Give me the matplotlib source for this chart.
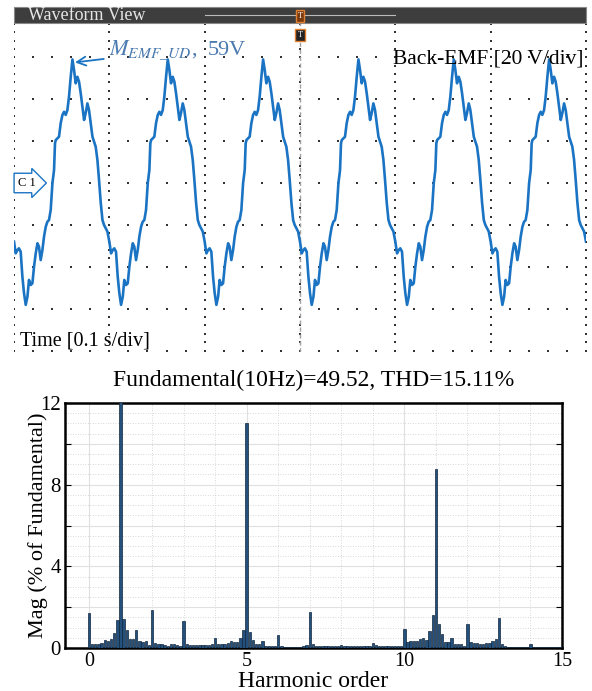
import numpy as np
import matplotlib
matplotlib.use("Agg")
import matplotlib.pyplot as plt
from matplotlib.patches import Rectangle

plt.rcParams['font.family'] = ['Liberation Serif', 'DejaVu Serif']
plt.rcParams['mathtext.fontset'] = 'stix'

# ---- data: one period of the back-EMF waveform (10 Hz)
period_ms = [0, 1.8, 3.6, 5.2, 7.0, 8.8, 10.5, 12.3, 14.1, 15.7, 17.5, 19.3, 21.0, 22.8,
             24.6, 26.2, 28.0, 29.8, 31.5, 33.3, 35.0, 36.7, 38.5, 40.3, 42.0, 43.0,
             43.8, 47.2, 49.0, 50.8, 52.5, 54.2, 56.0, 57.7, 59.5, 61.3, 63.0, 64.7,
             66.5, 68.2, 70.0, 73.5, 75.2, 77.0, 78.7, 80.5, 82.3, 84.0, 85.7, 87.5,
             89.2, 91.0, 92.8, 94.4, 96.2, 98.0]
period_volt = [-28.0, -33.6, -32.0, -31.2, -32.8, -44.7, -52.6, -58.2, -54.3, -46.3,
               -48.7, -47.9, -40.0, -33.6, -28.8, -30.4, -36.8, -32.0, -25.6, -20.9,
               -18.5, -17.7, -12.9, -0.1, 6.2, 18.9, 20.5, 22.1, 28.6, 32.5, 34.0,
               32.5, 34.8, 41.2, 50.7, 59.0, 53.9, 47.6, 50.7, 48.4, 42.8, 30.1, 33.4,
               38.0, 34.8, 28.6, 22.1, 19.7, 17.3, 11.0, 1.4, -9.5, -17.7, -20.0,
               -21.6, -23.2]
n_periods = 6

# ---- data: harmonic spectrum (% of fundamental), 0.1 harmonic-order resolution
harm_order = np.round(np.arange(0, 15.01, 0.1), 1)
harm_mag = [
    1.69, 0.18, 0.18, 0.20, 0.25, 0.38, 0.36, 0.43, 0.74, 1.39,
    100.0, 1.43, 0.87, 0.44, 0.44, 0.90, 0.34, 0.31, 0.33, 0.13,
    1.85, 0.25, 0.21, 0.18, 0.15, 0.11, 0.18, 0.20, 0.16, 0.11,
    1.31, 0.18, 0.16, 0.15, 0.13, 0.13, 0.16, 0.15, 0.16, 0.18,
    0.50, 0.21, 0.21, 0.21, 0.25, 0.36, 0.30, 0.30, 0.50, 0.90,
    11.0, 0.79, 0.41, 0.18, 0.18, 0.33, 0.11, 0.11, 0.08, 0.08,
    0.66, 0.08, 0.07, 0.06, 0.05, 0.05, 0.05, 0.05, 0.08, 0.16,
    1.74, 0.21, 0.11, 0.10, 0.08, 0.08, 0.10, 0.08, 0.08, 0.08,
    0.16, 0.10, 0.10, 0.08, 0.08, 0.08, 0.08, 0.08, 0.08, 0.10,
    0.25, 0.13, 0.10, 0.11, 0.11, 0.10, 0.10, 0.08, 0.08, 0.10,
    0.93, 0.28, 0.33, 0.33, 0.33, 0.44, 0.48, 0.39, 0.84, 1.64,
    8.77, 1.16, 0.67, 0.31, 0.31, 0.51, 0.20, 0.20, 0.20, 0.08,
    1.16, 0.30, 0.26, 0.23, 0.18, 0.21, 0.23, 0.26, 0.33, 0.44,
    1.48, 0.18, 0.08, 0.05, 0.06, 0.05, 0.04, 0.04, 0.04, 0.05,
    0.20, 0.05, 0.04, 0.04, 0.04, 0.05, 0.04, 0.04, 0.05, 0.04,
    0.04]
x_ticks = [0, 5, 10, 15]
y_ticks = [0, 2, 4, 6, 8, 10, 12]
y_ticklabels = ['0', '', '4', '', '8', '', '12']

W, H = 592, 691
fig = plt.figure(figsize=(W / 100, H / 100), dpi=100)

# ---------------- top: scope view ----------------
trace_blue = '#1b74c3'
ax1 = fig.add_axes([14 / W, 1 - 352 / H, 572 / W, 329 / H])
t_all = np.concatenate([(k * 100 + np.array(period_ms)) / 1000 for k in range(n_periods)] + [[0.6]])
v_all = np.concatenate([np.array(period_volt) for k in range(n_periods)] + [[period_volt[0]]])
ax1.set_xlim(0, 0.6)
ax1.set_ylim(-80.7, 76.4)
for s in ax1.spines.values():
    s.set_visible(False)
ax1.set_xticks([])
ax1.set_yticks([])

# dotted scope graticule
gx, gy = [], []
for tv in np.arange(0, 0.601, 0.1):
    for vv in np.arange(-80, 77, 4):
        gx.append(tv); gy.append(vv)
for vv in np.arange(-80, 61, 20):
    for tv in np.arange(0, 0.601, 0.02):
        gx.append(tv); gy.append(vv)
ax1.scatter(gx, gy, s=1.6, marker='s', color='#333333', linewidths=0, zorder=1)

ax1.axvline(0.3, color='#a0a0a0', lw=1, ls=(0, (3, 2)), zorder=1)
ax1.plot(t_all, v_all, color=trace_blue, lw=1.9, zorder=3)

ax1.text(0.398, 59, 'Back-EMF [20 V/div]', fontsize=15.5, color='black', va='center', zorder=4)
ax1.text(0.006, -75.5, 'Time [0.1 s/div]', fontsize=14.5, color='black', va='center', zorder=4)
ax1.text(0.004, 0, 'C 1', fontsize=9, color='black', va='center', zorder=4,
         bbox=dict(boxstyle='rarrow,pad=0.3', fc='white', ec=trace_blue, lw=1))
ax1.annotate(r'$M_{EMF\_UD}$,  59V', xy=(0.0625, 57.5), xytext=(0.1, 63.5),
             fontsize=16, color='#4a7ab0', va='center', zorder=4,
             arrowprops=dict(arrowstyle='->', color=trace_blue, lw=1.3,
                             shrinkA=2, shrinkB=1))

# header bar
fig.patches.append(Rectangle((14 / W, 1 - 23 / H), 572 / W, 16 / H,
                             transform=fig.transFigure, fc='#3d3d3d', ec='#888888', lw=0.8))
fig.text(28 / W, 1 - 15.5 / H, 'Waveform View', fontsize=13, color='#e6e6e6', va='center')
fig.lines.append(plt.Line2D([205 / W, 395 / W], [1 - 15 / H, 1 - 15 / H],
                            transform=fig.transFigure, color='#bbbbbb', lw=0.8))
fig.text(300 / W, 1 - 16 / H, 'T', fontsize=6, color='white', ha='center', va='center',
         bbox=dict(boxstyle='square,pad=0.2', fc='#7a3a10', ec='#e08030', lw=1))
fig.text(300 / W, 1 - 35 / H, 'T', fontsize=6, color='white', ha='center', va='center',
         bbox=dict(boxstyle='square,pad=0.25', fc='#222222', ec='#e08030', lw=1))

# ---------------- bottom: harmonic spectrum ----------------
ax2 = fig.add_axes([65 / W, 1 - 648 / H, 497 / W, 245 / H])
ax2.bar(harm_order, harm_mag, width=0.075, color='#24507e', edgecolor='#10263d',
        linewidth=0.5, zorder=3)
ax2.set_xlim(-0.76, 15)
ax2.set_ylim(0, 12)
ax2.set_xticks(x_ticks)
ax2.set_xticks(np.arange(0, 15.1, 1), minor=True)
ax2.set_yticks(y_ticks)
ax2.set_yticklabels(y_ticklabels)
ax2.set_yticks(np.arange(0, 12.01, 0.5), minor=True)
ax2.grid(which='major', color='#e0e0e0', lw=0.8, zorder=0)
ax2.grid(which='minor', color='#cccccc', lw=0.6, ls=(0, (1, 2)), zorder=0)
ax2.tick_params(which='major', direction='in', length=4, labelsize=15, right=True,
                top=False, width=0.8, pad=3)
ax2.tick_params(which='minor', length=0)
ax2.tick_params(axis='x', length=0, pad=3, labelsize=14.5)
for s in ax2.spines.values():
    s.set_linewidth(1.8)
ax2.set_title('Fundamental(10Hz)=49.52, THD=15.11%', fontsize=17, pad=12)
ax2.set_xlabel('Harmonic order', fontsize=17, labelpad=0)
ax2.set_ylabel('Mag (% of Fundamental)', fontsize=16, labelpad=-6)

fig.savefig('out.png', dpi=100)
